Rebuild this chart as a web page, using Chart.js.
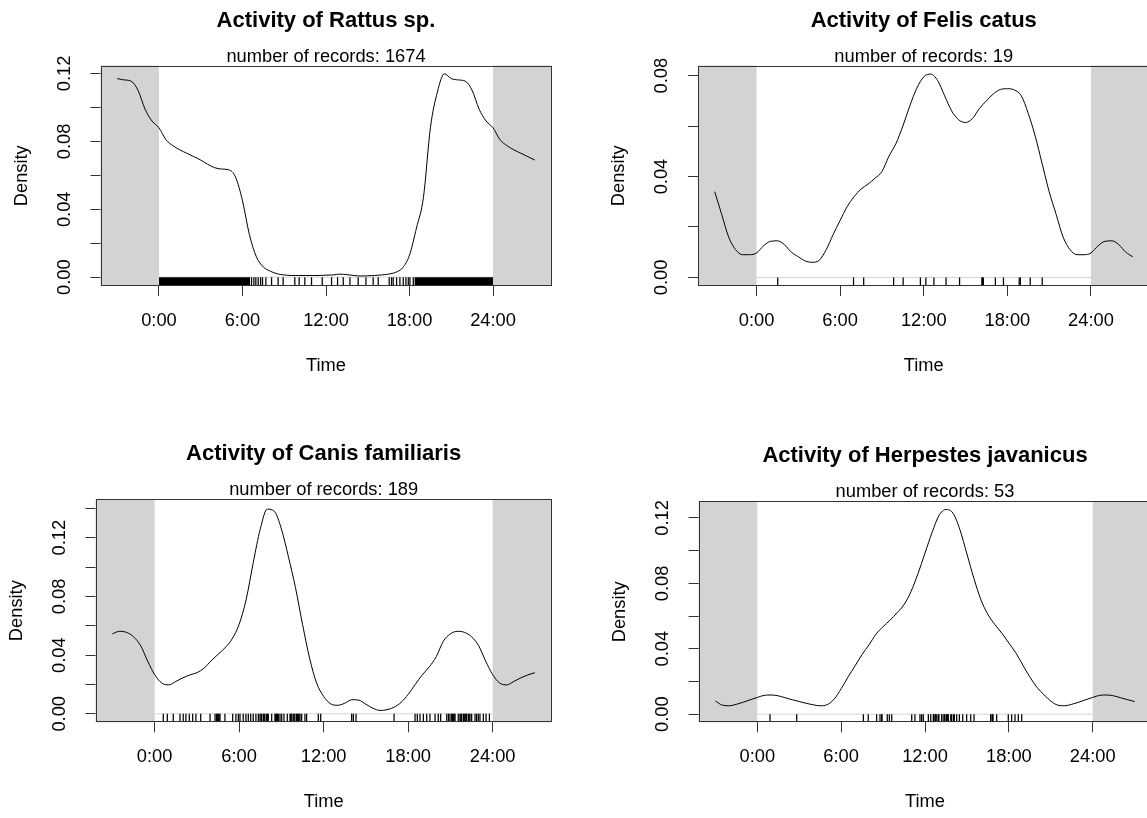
<!DOCTYPE html>
<html>
<head>
<meta charset="utf-8">
<title>Activity plots</title>
<script src="https://cdn.jsdelivr.net/npm/chart.js@4.4.1/dist/chart.umd.min.js"></script>
<style>
  html, body { margin: 0; padding: 0; background: #fff; }
  #page { position: relative; width: 1147px; height: 818px; overflow: hidden; background: #fff; }
  #page canvas { position: absolute; }
</style>
</head>
<body>
<div id="page">
  <canvas id="chartRattus"></canvas>
  <canvas id="chartFelis"></canvas>
  <canvas id="chartCanis"></canvas>
  <canvas id="chartHerpestes"></canvas>
</div>
<script>
/* =============================================================
   Activity density plots — 4 species, kernel density over a day
   Grey = outside the 0–24 h window (curve wrapped by 3 h)
   Rug  = individual record times
   ============================================================= */

// -----------------------------------------------------------------
// DATA — shared time axis
// -----------------------------------------------------------------
const HOURS = [
  0, 0.5, 1, 1.5, 2, 2.5, 3, 3.5, 4, 4.5, 5, 5.5, 6, 6.5, 7, 7.5,
  8, 8.5, 9, 9.5, 10, 10.5, 11, 11.5, 12, 12.5, 13, 13.5, 14, 14.5, 15, 15.5,
  16, 16.5, 17, 17.5, 18, 18.5, 19, 19.5, 20, 20.5, 21, 21.5, 22, 22.5, 23, 23.5, 24,
];
const X_TICKS       = [0, 6, 12, 18, 24];
const X_TICK_LABELS = ["0:00", "6:00", "12:00", "18:00", "24:00"];
const X_MIN = -4.2;
const X_MAX = 28.2;
const DAY_START = 0;
const DAY_END   = 24;
const PAD_HOURS = 3;   // wrapped part shown each side

// -----------------------------------------------------------------
// DATA — Rattus sp.
// -----------------------------------------------------------------
const RATTUS_DENSITY = [
  0.088, 0.081, 0.0775, 0.075, 0.073, 0.071, 0.069, 0.0665, 0.0645, 0.0637, 0.0633, 0.059,
  0.045, 0.025, 0.012, 0.006, 0.0035, 0.002, 0.0013, 0.001, 0.001, 0.001, 0.001, 0.001,
  0.0012, 0.0013, 0.0018, 0.0015, 0.0010, 0.0007, 0.0008, 0.0010, 0.0013, 0.0018, 0.0028, 0.0055,
  0.013, 0.029, 0.047, 0.088, 0.109, 0.1198, 0.117, 0.1162, 0.1155, 0.110, 0.099, 0.092, 0.088,
];
const RATTUS_RUG = [
  6.65, 6.82, 6.96, 7.13, 7.30, 7.44, 7.68, 8.09, 8.56, 8.92, 9.76, 10.07, 10.48, 10.96,
  11.73, 12.40, 12.83, 13.24, 13.72, 14.31, 14.87, 15.39, 15.75, 16.54, 16.71, 16.83,
  17.07, 17.31, 17.55, 17.74, 17.91, 18.03, 18.27,
];
// stretches so dense the rug is solid black
const RATTUS_RUG_BANDS = [[0, 6.55], [18.35, 24]];
const RATTUS_Y_TICKS  = [0, 0.02, 0.04, 0.06, 0.08, 0.10, 0.12];
const RATTUS_Y_LABELS = ["0.00", "", "0.04", "", "0.08", "", "0.12"];

// -----------------------------------------------------------------
// DATA — Felis catus
// -----------------------------------------------------------------
const FELIS_DENSITY = [
  0.0097, 0.0125, 0.0143, 0.0145, 0.013, 0.010, 0.0082, 0.0065, 0.006, 0.0068, 0.011, 0.017,
  0.0226, 0.028, 0.032, 0.035, 0.037, 0.0393, 0.042, 0.048, 0.053, 0.060, 0.068, 0.075,
  0.0795, 0.0806, 0.078, 0.072, 0.066, 0.0625, 0.0614, 0.063, 0.067, 0.070, 0.0728, 0.0745,
  0.0748, 0.0743, 0.072, 0.065, 0.056, 0.045, 0.034, 0.025, 0.016, 0.011, 0.009, 0.009, 0.0097,
];
const FELIS_RUG = [
  1.52, 6.96, 7.69, 9.84, 10.52, 11.76, 12.15, 12.73, 13.60, 14.57, 16.17, 16.28,
  17.14, 17.72, 18.85, 18.93, 19.64, 20.50, 16.22,
];
const FELIS_RUG_BANDS = [];
const FELIS_Y_TICKS  = [0, 0.02, 0.04, 0.06, 0.08];
const FELIS_Y_LABELS = ["0.00", "", "0.04", "", "0.08"];

// -----------------------------------------------------------------
// DATA — Canis familiaris
// -----------------------------------------------------------------
const CANIS_DENSITY = [
  0.0267, 0.021, 0.0197, 0.022, 0.0245, 0.0265, 0.028, 0.031, 0.036, 0.0405, 0.045, 0.051,
  0.061, 0.078, 0.103, 0.126, 0.1395, 0.138, 0.126, 0.107, 0.086, 0.061, 0.038, 0.021,
  0.0118, 0.0068, 0.0058, 0.0072, 0.0096, 0.0093, 0.0065, 0.0038, 0.0023, 0.0028, 0.0045, 0.0078,
  0.0132, 0.020, 0.0265, 0.032, 0.039, 0.0495, 0.0545, 0.0562, 0.0555, 0.0525, 0.0465, 0.036, 0.0267,
];
const CANIS_RUG = [
  0.61, 0.90, 1.32, 1.80, 2.03, 2.22, 2.46, 2.70, 2.93, 3.27, 3.93, 4.29, 4.40, 4.45, 4.52,
  4.58, 4.64, 4.99, 5.54, 5.77, 5.94, 6.06, 6.29, 6.48, 6.65, 6.82, 7.00, 7.19, 7.36, 7.48,
  7.55, 7.60, 7.72, 7.78, 7.83, 7.95, 8.00, 8.07, 8.31, 8.54, 8.60, 8.66, 8.72, 8.78, 8.90,
  9.02, 9.18, 9.42, 9.61, 9.66, 9.73, 9.84, 9.90, 9.96, 10.08, 10.14, 10.20, 10.26, 10.32,
  10.44, 10.67, 10.79, 11.62, 11.79, 13.99, 14.11, 14.30, 17.00, 18.49, 18.65, 18.84, 19.08,
  19.32, 19.55, 19.91, 20.14, 20.31, 20.74, 20.86, 20.97, 21.09, 21.15, 21.21, 21.27, 21.33,
  21.56, 21.68, 21.74, 21.80, 21.92, 21.98, 22.04, 22.10, 22.15, 22.27, 22.33, 22.39, 22.51,
  22.75, 22.86, 22.98, 23.10, 23.34, 23.53, 23.77,
];
const CANIS_RUG_BANDS = [];
const CANIS_Y_TICKS  = [0, 0.02, 0.04, 0.06, 0.08, 0.10, 0.12, 0.14];
const CANIS_Y_LABELS = ["0.00", "", "0.04", "", "0.08", "", "0.12", ""];

// -----------------------------------------------------------------
// DATA — Herpestes javanicus
// -----------------------------------------------------------------
const HERPESTES_DENSITY = [
  0.0102, 0.0115, 0.0117, 0.0112, 0.0100, 0.0088, 0.0077, 0.0066, 0.0057, 0.0051, 0.0058, 0.0092,
  0.0155, 0.0228, 0.0296, 0.0365, 0.0425, 0.049, 0.0535, 0.0575, 0.062, 0.067, 0.075, 0.086,
  0.0985, 0.111, 0.1215, 0.1252, 0.123, 0.1128, 0.098, 0.083, 0.070, 0.061, 0.0548, 0.0495,
  0.0435, 0.0375, 0.030, 0.0228, 0.0165, 0.012, 0.008, 0.0055, 0.0051, 0.006, 0.0073, 0.0088, 0.0102,
];
const HERPESTES_RUG = [
  0.91, 2.82, 7.59, 7.94, 8.54, 8.78, 8.90, 8.92, 9.30, 9.45, 9.62, 11.05, 11.28, 11.64,
  11.76, 11.88, 12.24, 12.41, 12.60, 12.61, 12.72, 12.73, 12.84, 12.95, 13.00, 13.19, 13.20,
  13.36, 13.38, 13.50, 13.55, 13.60, 13.67, 13.84, 13.90, 14.03, 14.10, 14.27, 14.46, 14.70,
  14.98, 15.27, 15.51, 16.70, 16.72, 16.84, 16.86, 17.13, 17.96, 18.20, 18.44, 18.68, 18.92,
];
const HERPESTES_RUG_BANDS = [];
const HERPESTES_Y_TICKS  = [0, 0.02, 0.04, 0.06, 0.08, 0.10, 0.12];
const HERPESTES_Y_LABELS = ["0.00", "", "0.04", "", "0.08", "", "0.12"];

// =================================================================
// STYLE
// =================================================================
const FONT       = "'Liberation Sans', Arial, Helvetica, sans-serif";
const FONT_SIZE  = 18.3;
const TITLE_SIZE = 22;
const NIGHT_GREY = "#d3d3d3";
const INK        = "#000";
const FRAME      = "#333";

// Panel geometry (page pixels) — canvas slot + plotting box
const PANELS = [
  {
    id: "chartRattus", title: "Activity of Rattus sp.", subtitle: "number of records: 1674",
    density: RATTUS_DENSITY, rug: RATTUS_RUG, bands: RATTUS_RUG_BANDS,
    yTicks: RATTUS_Y_TICKS, yLabels: RATTUS_Y_LABELS, yMin: -0.0052, yMax: 0.1247,
    slot: { left: 0,   top: 0,   width: 574, height: 409 },
    box:  { left: 100.5, top: 65.5, right: 551.5, bottom: 286 },
  },
  {
    id: "chartFelis", title: "Activity of Felis catus", subtitle: "number of records: 19",
    density: FELIS_DENSITY, rug: FELIS_RUG, bands: FELIS_RUG_BANDS,
    yTicks: FELIS_Y_TICKS, yLabels: FELIS_Y_LABELS, yMin: -0.0034, yMax: 0.0840,
    slot: { left: 574, top: 0,   width: 600, height: 409 },
    box:  { left: 698, top: 65.5, right: 1149.5, bottom: 286 },
  },
  {
    id: "chartCanis", title: "Activity of Canis familiaris", subtitle: "number of records: 189",
    density: CANIS_DENSITY, rug: CANIS_RUG, bands: CANIS_RUG_BANDS,
    yTicks: CANIS_Y_TICKS, yLabels: CANIS_Y_LABELS, yMin: -0.0058, yMax: 0.1464,
    slot: { left: 0,   top: 409, width: 574, height: 409 },
    box:  { left: 95.5, top: 499, right: 551.8, bottom: 722.3 },
  },
  {
    id: "chartHerpestes", title: "Activity of Herpestes javanicus", subtitle: "number of records: 53",
    density: HERPESTES_DENSITY, rug: HERPESTES_RUG, bands: HERPESTES_RUG_BANDS,
    yTicks: HERPESTES_Y_TICKS, yLabels: HERPESTES_Y_LABELS, yMin: -0.0050, yMax: 0.1302,
    slot: { left: 574, top: 409, width: 600, height: 409 },
    box:  { left: 698.6, top: 501.3, right: 1151.4, bottom: 722.3 },
  },
];

// =================================================================
// HELPERS
// =================================================================

// The density is circular — show the last / first 3 h again on each side
const wrapCurve = (vals) => {
  const pts    = HOURS.map((h, i) => ({ x: h, y: vals[i] }));
  const before = pts.filter((p) => p.x >= DAY_END - PAD_HOURS && p.x < DAY_END)
                    .map((p) => ({ x: p.x - 24, y: p.y }));
  const after  = pts.filter((p) => p.x > DAY_START && p.x <= PAD_HOURS)
                    .map((p) => ({ x: p.x + 24, y: p.y }));
  return [...before, ...pts, ...after];
};

// rug tick half-length = half the gap between y=0 and the bottom of the box
const rugRadius = (ctx) => {
  const s = ctx.chart.scales.y;
  return (s.getPixelForValue(s.min) - s.getPixelForValue(0)) / 2;
};

// grey night blocks, titles, frame
const panelDecor = (panel) => ({
  id: "panelDecor",
  beforeDatasetsDraw(chart) {
    const { ctx, chartArea: a, scales: { x } } = chart;
    const x0  = x.getPixelForValue(DAY_START);
    const x24 = x.getPixelForValue(DAY_END);
    ctx.save();
    ctx.fillStyle = NIGHT_GREY;
    ctx.fillRect(a.left, a.top, x0 - a.left, a.bottom - a.top);
    ctx.fillRect(x24, a.top, a.right - x24, a.bottom - a.top);
    ctx.restore();
  },
  afterDraw(chart) {
    const { ctx, chartArea: a } = chart;
    const cx = (a.left + a.right) / 2;
    ctx.save();
    // frame
    ctx.strokeStyle = FRAME;
    ctx.lineWidth = 1;
    const l = Math.round(a.left) + 0.5, t = Math.round(a.top) + 0.5;
    const r = Math.round(a.right) - 0.5, b = Math.round(a.bottom) - 0.5;
    ctx.strokeRect(l, t, r - l, b - t);
    // titles
    ctx.fillStyle = INK;
    ctx.textAlign = "center";
    ctx.textBaseline = "alphabetic";
    ctx.font = `bold ${TITLE_SIZE}px ${FONT}`;
    ctx.fillText(panel.title, cx, a.top - 39);
    ctx.font = `${FONT_SIZE}px ${FONT}`;
    ctx.fillText(panel.subtitle, cx, a.top - 4);
    ctx.restore();
  },
});

// =================================================================
// RENDER — one panel
// =================================================================
const renderPanel = (panel) => {
  const { slot, box } = panel;
  const canvas = document.getElementById(panel.id);
  canvas.width  = slot.width;
  canvas.height = slot.height;
  canvas.style.left = slot.left + "px";
  canvas.style.top  = slot.top + "px";

  const lineHalf = FONT_SIZE * 1.2 / 2;
  const yAxisWidth  = box.left - slot.left;
  const xAxisHeight = slot.top + slot.height - box.bottom;
  const densityTitleX = box.left - 79 - slot.left;        // centre of "Density"
  const timeTitleY    = box.bottom + 80 - slot.top;       // centre of "Time"

  const datasets = [
    {
      // density curve
      data: wrapCurve(panel.density),
      borderColor: INK,
      borderWidth: 1,
      pointRadius: 0,
      fill: false,
      cubicInterpolationMode: "monotone",
    },
    {
      // rug — one tick per record
      data: panel.rug.map((h) => ({ x: h, y: panel.yMin / 2 })),
      showLine: false,
      pointStyle: "line",
      rotation: 90,
      pointRadius: rugRadius,
      borderColor: INK,
      borderWidth: 1.25,
    },
    ...panel.bands.map(([from, to]) => ({
      data: [{ x: from, y: 0 }, { x: to, y: 0 }],
      borderWidth: 0,
      pointRadius: 0,
      backgroundColor: INK,
      fill: "start",
    })),
    {
      // baseline under the rug for the observed day
      data: [{ x: DAY_START, y: 0 }, { x: DAY_END, y: 0 }],
      borderColor: NIGHT_GREY,
      borderWidth: 1,
      pointRadius: 0,
      fill: false,
    },
  ];

  return new Chart(canvas, {
    type: "line",
    data: { datasets },
    options: {
      responsive: false,
      animation: false,
      events: [],
      layout: {
        padding: {
          top:    box.top - slot.top,
          right:  slot.left + slot.width - box.right,
          bottom: 0,
          left:   0,
        },
      },
      plugins: {
        legend:  { display: false },
        tooltip: { enabled: false },
      },
      scales: {
        x: {
          type: "linear",
          min: X_MIN,
          max: X_MAX,
          afterFit: (s) => { s.height = xAxisHeight; },
          afterBuildTicks: (s) => { s.ticks = X_TICKS.map((v) => ({ value: v })); },
          ticks: {
            autoSkip: false,
            maxRotation: 0,
            minRotation: 0,
            padding: 13.5,
            color: INK,
            font: { family: FONT, size: FONT_SIZE },
            callback: (v) => X_TICK_LABELS[X_TICKS.indexOf(v)],
          },
          grid:   { drawOnChartArea: false, drawTicks: true, tickLength: 10, color: FRAME, lineWidth: 1 },
          border: { display: false },
          title: {
            display: true,
            text: "Time",
            color: INK,
            font: { family: FONT, size: FONT_SIZE },
            padding: { top: 0, bottom: slot.height - lineHalf - timeTitleY },
          },
        },
        y: {
          type: "linear",
          min: panel.yMin,
          max: panel.yMax,
          afterFit: (s) => { s.width = yAxisWidth; },
          afterBuildTicks: (s) => { s.ticks = panel.yTicks.map((v) => ({ value: v })); },
          ticks: {
            autoSkip: false,
            minRotation: 90,
            maxRotation: 90,
            crossAlign: "center",
            padding: 8,
            color: INK,
            font: { family: FONT, size: FONT_SIZE },
            callback: (v) => panel.yLabels[panel.yTicks.indexOf(v)],
          },
          grid:   { drawOnChartArea: false, drawTicks: true, tickLength: 10, color: FRAME, lineWidth: 1 },
          border: { display: false },
          title: {
            display: true,
            text: "Density",
            color: INK,
            font: { family: FONT, size: FONT_SIZE },
            padding: { top: densityTitleX - lineHalf, bottom: 0 },
          },
        },
      },
    },
    plugins: [panelDecor(panel)],
  });
};

// =================================================================
// INIT
// =================================================================
PANELS.forEach(renderPanel);
</script>
</body>
</html>
